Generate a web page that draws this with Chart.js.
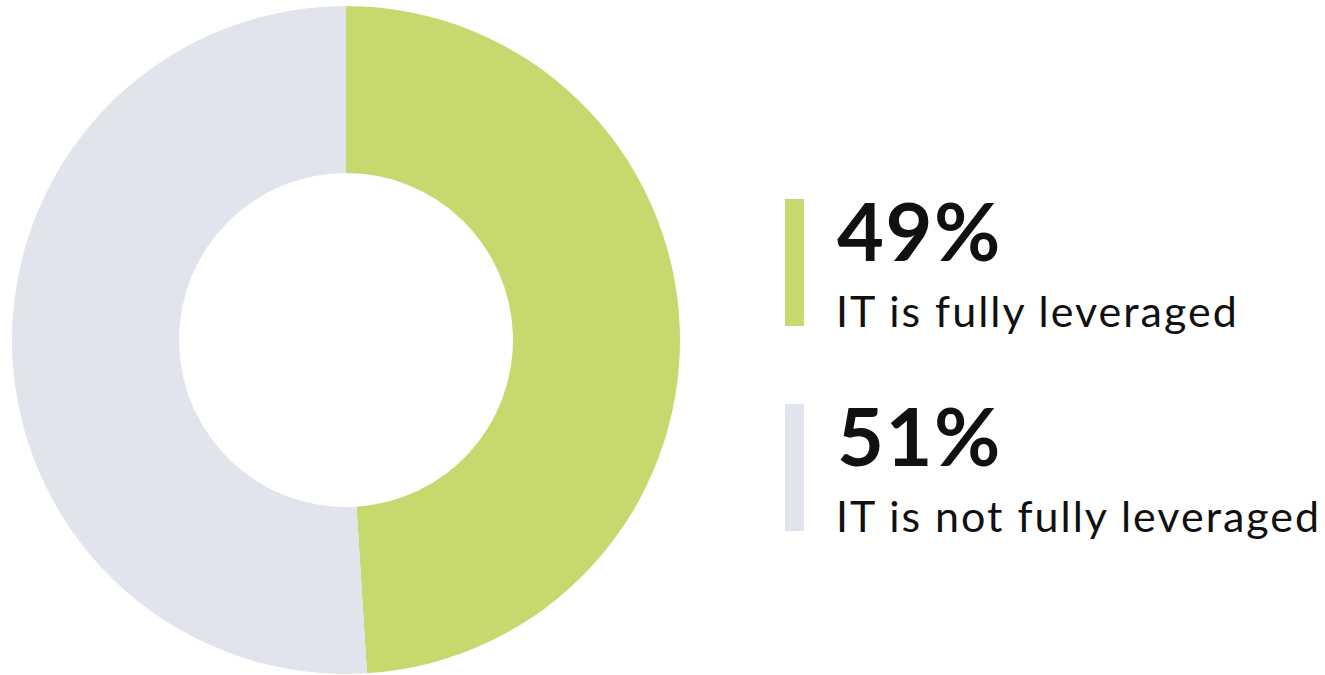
<!DOCTYPE html>
<html>
<head>
<meta charset="utf-8">
<script src="https://cdn.jsdelivr.net/npm/chart.js@4/dist/chart.umd.min.js"></script>
<style>
    html, body { margin: 0; padding: 0; background: #fff; }
    body { width: 1325px; height: 675px; position: relative; overflow: hidden; font-family: Lato, "Open Sans", sans-serif; color: #111; }
    #chartBox { position: absolute; left: 12px; top: 6px; width: 668px; height: 668px; }
    .legend-item { position: absolute; left: 785px; height: 127px; }
    .legend-bar { position: absolute; left: 0; top: 0; width: 19px; height: 127px; }
    .legend-value { position: absolute; left: 52px; top: -10px; font-size: 81px; font-weight: 700; line-height: 1; letter-spacing: 1.5px; white-space: nowrap; }
    .legend-label { position: absolute; left: 51px; top: 90px; font-size: 43px; font-weight: 400; line-height: 1; letter-spacing: 2px; white-space: nowrap; }
</style>
</head>
<body>
<div id="chartBox"><canvas id="itChart"></canvas></div>
<div id="legend"></div>
<script>
const labels = ['IT is fully leveraged', 'IT is not fully leveraged'];
const shares = [49, 51];
const colors = ['#c6d96f', '#e1e4ec'];
const legendTops = [199, 404];

function renderLegend() {
    const container = document.getElementById('legend');
    container.innerHTML = labels.map((label, i) => `
        <div class="legend-item" style="top:${legendTops[i]}px">
            <div class="legend-bar" style="background:${colors[i]}"></div>
            <div class="legend-value">${shares[i]}%</div>
            <div class="legend-label">${label}</div>
        </div>
    `).join('');
}

renderLegend();

new Chart(document.getElementById('itChart'), {
    type: 'doughnut',
    data: {
        labels: labels,
        datasets: [{
            data: shares,
            backgroundColor: colors,
            borderWidth: 0,
            hoverOffset: 0
        }]
    },
    options: {
        responsive: true,
        maintainAspectRatio: false,
        animation: false,
        cutout: '50%',
        layout: { padding: 0 },
        plugins: {
            legend: { display: false },
            tooltip: { enabled: false }
        }
    }
});
</script>
</body>
</html>
